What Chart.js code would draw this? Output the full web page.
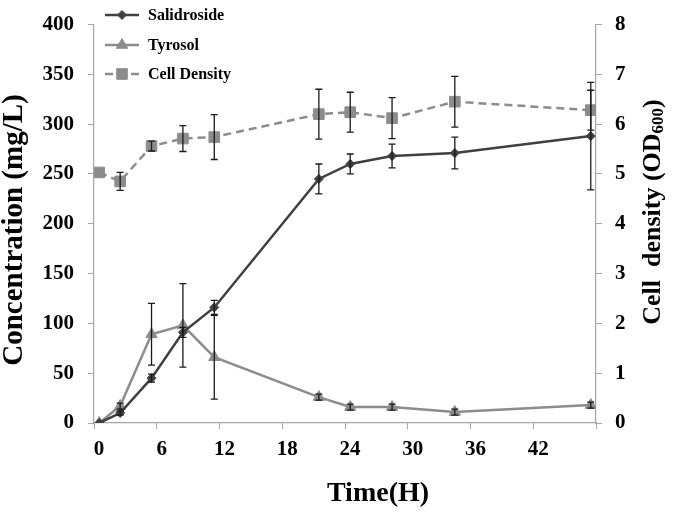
<!DOCTYPE html>
<html>
<head>
<meta charset="utf-8">
<script src="https://cdn.jsdelivr.net/npm/chart.js@4"></script>
<style>
  html, body { margin: 0; padding: 0; background: #fff; }
  #wrap { width: 675px; height: 514px; position: relative; }
</style>
</head>
<body>
<div id="wrap"><canvas id="chart" width="675" height="514"></canvas></div>
<script>
// values
const times = [0.5, 2.5, 5.5, 8.5, 11.5, 21.5, 24.5, 28.5, 34.5, 47.5];
const salidroside = [0, 10, 45, 91, 116, 245, 260, 268, 271, 288];
const salidrosideErr = [0, 2, 4, 5, 7, 15, 10, 12, 16, 54];
const tyrosol = [0, 17, 89, 98, 66, 26, 16, 16, 11, 18];
const tyrosolErr = [0, 3, 31, 42, 42, 3, 3, 3, 3, 3];
const cellDensity = [5.03, 4.85, 5.56, 5.71, 5.74, 6.2, 6.24, 6.12, 6.45, 6.28];
const cellDensityErr = [0, 0.18, 0.1, 0.26, 0.45, 0.5, 0.4, 0.41, 0.51, 0.4];

const xTicks = [0, 6, 12, 18, 24, 30, 36, 42];

const serif = "'Liberation Serif', 'Times New Roman', serif";
const axisGray = '#a6a6a6';
const dark = '#404040';
const light = '#8c8c8c';

const toPoints = (ys) => ys.map((y, i) => ({ x: times[i], y: y }));

// error bars drawn from each dataset's own y scale
const errorBars = {
    id: 'errorBars',
    afterDatasetsDraw(chart) {
        const ctx = chart.ctx;
        ctx.save();
        ctx.strokeStyle = '#1a1a1a';
        ctx.lineWidth = 1.3;
        chart.data.datasets.forEach((ds, di) => {
            if (!ds.errors) return;
            const meta = chart.getDatasetMeta(di);
            const yScale = chart.scales[ds.yAxisID];
            meta.data.forEach((pt, i) => {
                const e = ds.errors[i];
                if (!e) return;
                const v = ds.data[i].y;
                const top = yScale.getPixelForValue(v + e);
                const bot = yScale.getPixelForValue(v - e);
                ctx.beginPath();
                ctx.moveTo(pt.x, top); ctx.lineTo(pt.x, bot);
                ctx.moveTo(pt.x - 3.5, top); ctx.lineTo(pt.x + 3.5, top);
                ctx.moveTo(pt.x - 3.5, bot); ctx.lineTo(pt.x + 3.5, bot);
                ctx.stroke();
            });
        });
        ctx.restore();
    }
};

// legend with line + marker samples, top left inside the plot
const lineLegend = {
    id: 'lineLegend',
    afterDraw(chart) {
        const ctx = chart.ctx;
        const rows = [15, 45, 74];
        ctx.save();
        chart.data.datasets.forEach((ds, i) => {
            const y = rows[i];
            ctx.strokeStyle = ds.borderColor;
            ctx.lineWidth = ds.borderWidth;
            ctx.setLineDash(ds.borderDash || []);
            ctx.beginPath();
            ctx.moveTo(105, y); ctx.lineTo(139, y);
            ctx.stroke();
            ctx.setLineDash([]);
            ctx.fillStyle = ds.pointBackgroundColor;
            ctx.strokeStyle = ds.pointBorderColor;
            ctx.lineWidth = 1;
            Chart.helpers.drawPoint(ctx, {
                pointStyle: ds.pointStyle,
                radius: ds.pointRadius,
                borderWidth: 1
            }, 122, y);
            ctx.fillStyle = '#000';
            ctx.font = 'bold 16px ' + serif;
            ctx.textBaseline = 'middle';
            ctx.textAlign = 'left';
            ctx.fillText(ds.label, 148, y + 1);
        });
        ctx.restore();
    }
};

// axis titles (right one needs a subscript)
const axisTitles = {
    id: 'axisTitles',
    afterDraw(chart) {
        const ctx = chart.ctx;
        ctx.save();
        ctx.fillStyle = '#000';
        ctx.textBaseline = 'middle';
        ctx.textAlign = 'center';
        ctx.font = 'bold 28px ' + serif;
        ctx.fillText('Time(H)', 378, 494);

        ctx.save();
        ctx.translate(15, 230);
        ctx.rotate(-Math.PI / 2);
        ctx.font = 'bold 29px ' + serif;
        ctx.fillText('Concentration (mg/L)', 0, 0);
        ctx.restore();

        const big = 'bold 26px ' + serif;
        const small = 'bold 17px ' + serif;
        const parts = [
            { t: 'Cell  density (OD', f: big, dy: 0 },
            { t: '600', f: small, dy: 6 },
            { t: ')', f: big, dy: 0 }
        ];
        let total = 0;
        parts.forEach(p => { ctx.font = p.f; p.w = ctx.measureText(p.t).width; total += p.w; });
        ctx.translate(653, 212);
        ctx.rotate(-Math.PI / 2);
        ctx.textAlign = 'left';
        let x = -total / 2;
        parts.forEach(p => {
            ctx.font = p.f;
            ctx.fillText(p.t, x, p.dy);
            x += p.w;
        });
        ctx.restore();
    }
};

const tickFont = { family: serif, size: 21, weight: 'bold', lineHeight: 1 };

new Chart(document.getElementById('chart'), {
    type: 'line',
    data: {
        datasets: [
            {
                label: 'Salidroside',
                data: toPoints(salidroside),
                errors: salidrosideErr,
                yAxisID: 'y',
                borderColor: dark,
                borderWidth: 2.5,
                pointStyle: 'rectRot',
                pointRadius: 4.5,
                pointBackgroundColor: dark,
                pointBorderColor: dark,
                pointBorderWidth: 1
            },
            {
                label: 'Tyrosol',
                data: toPoints(tyrosol),
                errors: tyrosolErr,
                yAxisID: 'y',
                borderColor: light,
                borderWidth: 2.5,
                pointStyle: 'triangle',
                pointRadius: 6.5,
                pointBackgroundColor: light,
                pointBorderColor: light,
                pointBorderWidth: 1
            },
            {
                label: 'Cell Density',
                data: toPoints(cellDensity),
                errors: cellDensityErr,
                yAxisID: 'y1',
                borderColor: light,
                borderWidth: 2.5,
                borderDash: [8, 5],
                pointStyle: 'rect',
                pointRadius: 7.5,
                pointBackgroundColor: light,
                pointBorderColor: light,
                pointBorderWidth: 1
            }
        ]
    },
    options: {
        responsive: false,
        animation: false,
        devicePixelRatio: 1,
        layout: { padding: { top: 11, right: 0, bottom: 0, left: 0 } },
        plugins: {
            legend: { display: false },
            tooltip: { enabled: false }
        },
        scales: {
            x: {
                type: 'linear',
                min: 0,
                max: 48,
                afterFit: s => { s.height = 91; },
                afterBuildTicks: s => { s.ticks = xTicks.concat([48]).map(v => ({ value: v })); },
                ticks: {
                    font: tickFont,
                    color: '#000',
                    padding: 10,
                    labelOffset: 5,
                    maxRotation: 0,
                    callback: v => xTicks.includes(v) ? String(v) : ''
                },
                grid: { drawOnChartArea: false, tickLength: 6, color: axisGray, lineWidth: 1 },
                border: { color: axisGray, width: 1.2 }
            },
            y: {
                position: 'left',
                min: 0,
                max: 400,
                afterFit: s => { s.width = 94; },
                ticks: { stepSize: 50, font: tickFont, color: '#000', padding: 14 },
                grid: { drawOnChartArea: false, tickLength: 6, color: axisGray, lineWidth: 1 },
                border: { color: axisGray, width: 1.2 }
            },
            y1: {
                position: 'right',
                min: 0,
                max: 8,
                afterFit: s => { s.width = 79; },
                ticks: { stepSize: 1, font: tickFont, color: '#000', padding: 13 },
                grid: { drawOnChartArea: false, tickLength: 6, color: axisGray, lineWidth: 1 },
                border: { color: axisGray, width: 1.2 }
            }
        }
    },
    plugins: [errorBars, lineLegend, axisTitles]
});
</script>
</body>
</html>
